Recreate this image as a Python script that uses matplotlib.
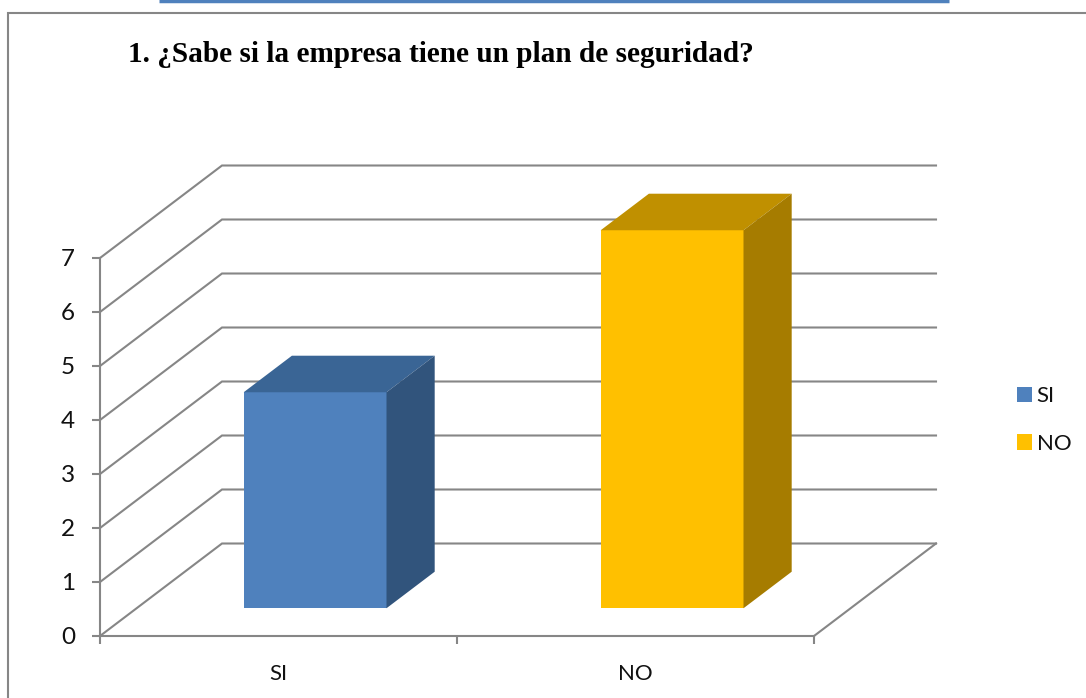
import matplotlib
matplotlib.use('Agg')
import matplotlib.pyplot as plt
from matplotlib.lines import Line2D
from matplotlib.patches import Patch, Polygon

categorias = ['SI', 'NO']
valores = [4, 7]
cores_frente = ['#4F81BD', '#FFC000']
cores_topo = ['#3A6595', '#C09000']
cores_lado = ['#31547C', '#A67C00']
ticks_y = [0, 1, 2, 3, 4, 5, 6, 7]
titulo = '1. ¿Sabe si la empresa tiene un plan de seguridad?'

W, H = 1086, 698
CINZA = '#868686'
LW = 1.5
FONTE = ['Lato', 'DejaVu Sans']

fig = plt.figure(figsize=(W / 100, H / 100), dpi=100)
ax = fig.add_axes([100 / W, 1 - 636 / H, 714 / W, 378 / H])
ax.set_xlim(0, 2)
ax.set_ylim(0, 7)
ax.patch.set_visible(False)

# profundidade do grafico 3D, em unidades de dados
prof_x = 122 / 357
prof_y = 92.5 / 54


def plano(px, v, p):
    # ponto no eixo deslocado pela fracao p da profundidade
    return (px + p * prof_x, v + p * prof_y)


# grade: parede lateral + parede do fundo
for t in ticks_y:
    ax.plot([0, prof_x, 2 + prof_x], [t, t + prof_y, t + prof_y], color=CINZA,
            lw=LW, clip_on=False, zorder=1, solid_joinstyle='miter')
# borda direita do piso
ax.plot([2, 2 + prof_x], [0, prof_y], color=CINZA, lw=LW, clip_on=False, zorder=1)

# barras 3D
largura = 0.4
p0, p1 = 0.3, 0.695
for i, v in enumerate(valores):
    x0 = i + 0.5 - largura / 2
    x1 = i + 0.5 + largura / 2
    frente = [plano(x0, 0, p0), plano(x1, 0, p0), plano(x1, v, p0), plano(x0, v, p0)]
    topo = [plano(x0, v, p0), plano(x1, v, p0), plano(x1, v, p1), plano(x0, v, p1)]
    lado = [plano(x1, 0, p0), plano(x1, 0, p1), plano(x1, v, p1), plano(x1, v, p0)]
    ax.add_patch(Polygon(frente, fc=cores_frente[i], ec='none', clip_on=False, zorder=3))
    ax.add_patch(Polygon(topo, fc=cores_topo[i], ec='none', clip_on=False, zorder=3))
    ax.add_patch(Polygon(lado, fc=cores_lado[i], ec='none', clip_on=False, zorder=3))

# eixos
for lado_ax in ['top', 'right']:
    ax.spines[lado_ax].set_visible(False)
for lado_ax in ['left', 'bottom']:
    ax.spines[lado_ax].set_color(CINZA)
    ax.spines[lado_ax].set_linewidth(LW)
ax.set_yticks(ticks_y)
ax.set_xticks([0, 1, 2])
ax.set_xticklabels([])
ax.set_xticks([0.5, 1.5], categorias, minor=True)
ax.tick_params(axis='both', which='major', color=CINZA, width=LW, length=6,
               labelsize=17.5, labelcolor='#111111')
ax.tick_params(axis='y', which='major', pad=12)
ax.tick_params(axis='x', which='minor', length=0, labelsize=16, labelcolor='#111111', pad=20.5)
for rotulo in ax.get_yticklabels():
    rotulo.set_fontfamily(FONTE)
for rotulo in ax.get_xticklabels(minor=True):
    rotulo.set_fontfamily(FONTE)

# legenda
alcas = [Patch(fc=c, ec='none') for c in cores_frente]
leg = fig.legend(alcas, categorias, loc='center left', bbox_to_anchor=(1017 / W, 1 - 420 / H),
                 frameon=False, prop={'family': 'Lato', 'size': 16}, handlelength=0.68,
                 handleheight=0.68, handletextpad=0.2, labelspacing=1.25,
                 borderpad=0, borderaxespad=0)
for t in leg.get_texts():
    t.set_color('#111111')

fig.text(128 / W, 1 - 55 / H, titulo, family='Liberation Serif', weight='bold',
         size=21.1, va='center', ha='left', color='black')

# moldura do grafico e a linha azul de cima
fig.add_artist(Line2D([8 / W, 8 / W, 1], [0, 1 - 13 / H, 1 - 13 / H], color=CINZA, lw=1.5,
                      solid_joinstyle='miter'))
fig.add_artist(Line2D([159 / W, 949 / W], [1 - 0.5 / H, 1 - 0.5 / H], color='#4F81BD', lw=2.5,
                      solid_capstyle='butt'))

fig.savefig('out.png', dpi=100)
